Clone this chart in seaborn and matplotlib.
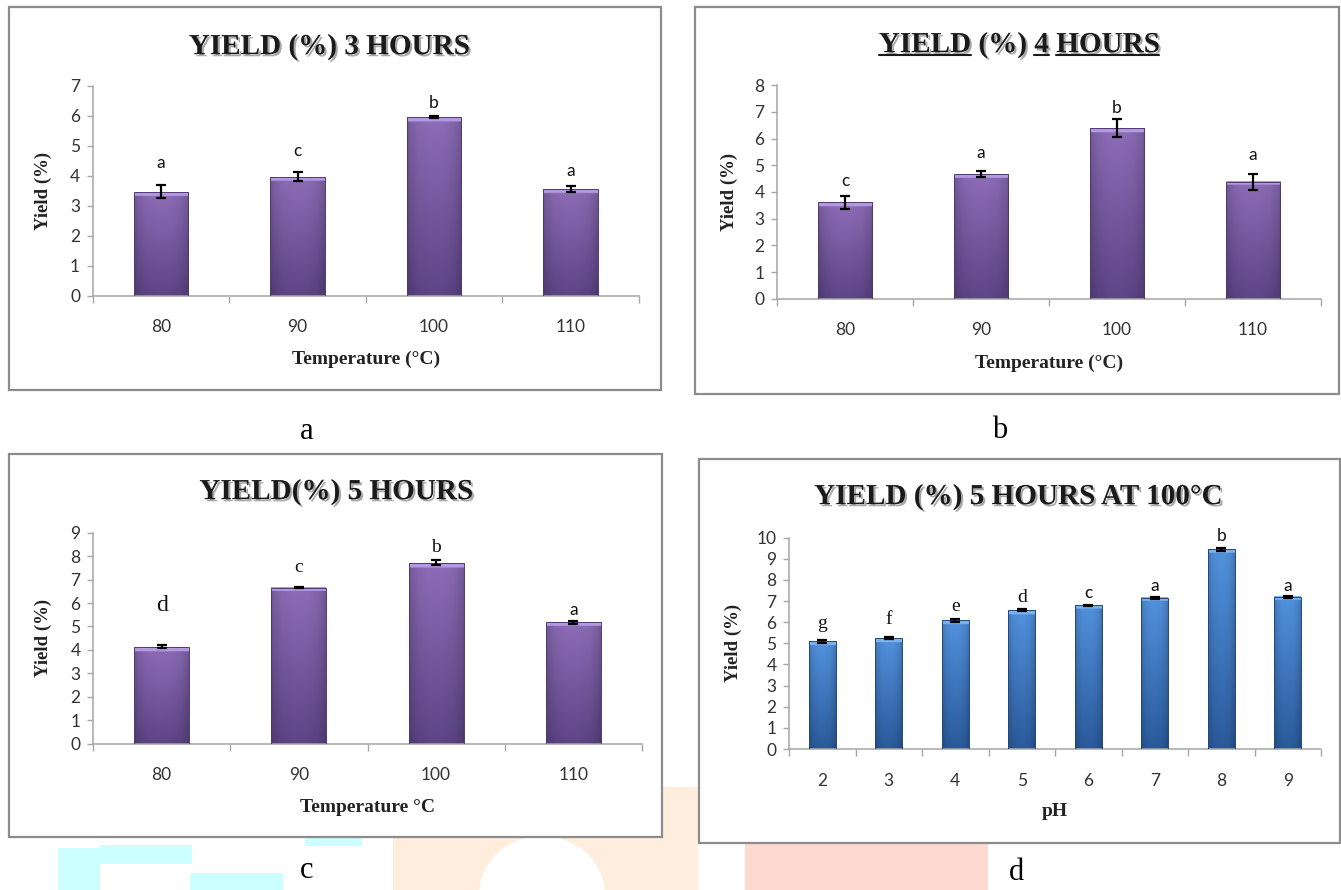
import numpy as np
import pandas as pd
import seaborn as sns
import matplotlib
matplotlib.use("Agg")
import matplotlib.pyplot as plt
from matplotlib.patches import Rectangle, Ellipse
from matplotlib.lines import Line2D
from matplotlib import patheffects as pe
from matplotlib.ticker import FixedLocator

# ---------------------------------------------------------------- data
temperatures = ["80", "90", "100", "110"]

yield_3h = [3.47, 3.97, 5.97, 3.57]
err_3h = [0.22, 0.15, 0.03, 0.10]
letters_3h = ["a", "c", "b", "a"]

yield_4h = [3.61, 4.67, 6.39, 4.39]
err_4h = [0.24, 0.11, 0.34, 0.30]
letters_4h = ["c", "a", "b", "a"]

yield_5h = [4.13, 6.66, 7.72, 5.18]
err_5h = [0.06, 0.04, 0.11, 0.06]
letters_5h = ["d", "c", "b", "a"]

ph_values = ["2", "3", "4", "5", "6", "7", "8", "9"]
yield_ph = [5.10, 5.25, 6.10, 6.56, 6.80, 7.15, 9.45, 7.20]
err_ph = [0.07, 0.05, 0.07, 0.05, 0.03, 0.03, 0.06, 0.06]
letters_ph = ["g", "f", "e", "d", "c", "a", "b", "a"]

# ---------------------------------------------------------------- style
sns.set_theme(style="white")
plt.rcParams["font.family"] = ["Lato", "DejaVu Sans"]

W, H = 1341, 890
fig = plt.figure(figsize=(W / 100, H / 100), dpi=100)
fig.patch.set_facecolor("white")

SERIF = ["Liberation Serif", "DejaVu Serif"]
SANS = ["Lato", "DejaVu Sans"]
SPINE = "#a6a6a6"
TITLE_KW = dict(fontsize=21, fontweight="bold", family=SERIF)

PURPLE = dict(top=(0.550, 0.425, 0.715), bot=(0.365, 0.270, 0.525),
              bevel=(0.700, 0.600, 0.880), edge="#4e3a72")
BLUE = dict(top=(0.320, 0.570, 0.865), bot=(0.165, 0.350, 0.605),
            bevel=(0.480, 0.700, 0.930), edge="#22497c")


def px_rect(x0, y0, x1, y1):
    """Figure-fraction rectangle from pixel corners (top-left origin)."""
    return [x0 / W, 1 - y1 / H, (x1 - x0) / W, (y1 - y0) / H]


def shade_bars(ax, ymax, pal):
    ax_h_px = ax.get_position().height * H
    bevel = 4.0 / ax_h_px * ymax
    for p in list(ax.patches):
        x0, y0, w, h = p.get_x(), p.get_y(), p.get_width(), p.get_height()
        ny, nx = 160, 48
        t = np.linspace(1, 0, ny)[:, None]
        u = np.linspace(0, 1, nx)[None, :]
        top = np.array(pal["top"])
        bot = np.array(pal["bot"])
        img = bot + (top - bot) * t[..., None]
        shade = 1 - 0.18 * np.abs(2 * u - 1) ** 3
        img = img * shade[..., None]
        nb = max(1, int(round(bevel / h * ny)))
        img[:nb] = np.array(pal["bevel"])
        img = np.clip(img, 0, 1)
        ax.imshow(img, extent=(x0, x0 + w, y0, y0 + h), aspect="auto",
                  interpolation="bilinear", zorder=2.5)
        p.set_facecolor("none")
        p.set_edgecolor(pal["edge"])
        p.set_linewidth(0.7)
        p.set_zorder(2.6)


def underline_words(title_artist, words):
    """Draw a rule under selected words of a title."""
    r = fig.canvas.get_renderer()
    text = title_artist.get_text()
    bb = title_artist.get_window_extent(r)

    def width(s):
        tmp = fig.text(0, 0, s, **TITLE_KW)
        w = tmp.get_window_extent(r).width
        tmp.remove()
        return w

    full_w = width(text)
    scale = bb.width / full_w
    y = bb.y0 + 3.5
    for word in words:
        start = text.index(word)
        xs = bb.x0 + width(text[:start] + "|") * scale - width("|") * scale \
            if start else bb.x0
        xe = xs + width(word) * scale
        fig.add_artist(Line2D([xs / W, xe / W], [y / H, y / H],
                              transform=fig.transFigure, color="#1a1a1a",
                              linewidth=1.5))


def panel(box, axrect, cats, vals, errs, letters, ymax, title, title_xy,
          xlabel, xlabel_y, ylabel_x, caption, caption_xy, pal,
          letter_off, letter_fonts=None, letter_sizes=None):
    # outer frame of the panel
    fig.add_artist(Rectangle((box[0] / W, 1 - box[3] / H),
                             (box[2] - box[0]) / W, (box[3] - box[1]) / H,
                             transform=fig.transFigure, facecolor="white",
                             edgecolor="#8c8c8c", linewidth=1.6, zorder=-1))
    ax = fig.add_axes(px_rect(*axrect))
    ax.set_facecolor("none")
    df = pd.DataFrame({"cat": cats, "val": vals})
    sns.barplot(data=df, x="cat", y="val", order=cats, color=pal["top"],
                width=0.4, saturation=1, errorbar=None, ax=ax)
    n = len(cats)
    shade_bars(ax, ymax, pal)
    ax.set_xlim(-0.5, n - 0.5)
    ax.set_ylim(0, ymax)

    ax.errorbar(range(n), vals, yerr=errs, fmt="none", ecolor="black",
                elinewidth=1.6, capsize=3.5, capthick=1.6, zorder=4)

    for i, (v, e, lab) in enumerate(zip(vals, errs, letters)):
        fam = letter_fonts[i] if letter_fonts else SANS
        size = letter_sizes[i] if letter_sizes else 12.5
        ax.annotate(lab, (i, v + e), xytext=(0, letter_off[i] * 0.72),
                    textcoords="offset points", ha="center", va="center",
                    fontsize=size, family=fam, color="#111111", zorder=5)

    # axes lines and ticks
    for s in ["top", "right"]:
        ax.spines[s].set_visible(False)
    for s in ["left", "bottom"]:
        ax.spines[s].set_color(SPINE)
        ax.spines[s].set_linewidth(1.1)
    ax.set_yticks(range(0, ymax + 1))
    ax.tick_params(axis="y", length=4, width=1, color=SPINE, pad=5,
                   labelsize=12.5, labelcolor="#333333", left=True)
    ax.xaxis.set_minor_locator(FixedLocator(np.arange(-0.5, n, 1.0)))
    ax.tick_params(axis="x", which="major", length=0, pad=17,
                   labelsize=12.5, labelcolor="#333333")
    ax.tick_params(axis="x", which="minor", length=5, width=1,
                   color=SPINE, bottom=True)
    ax.set_xlabel("")
    ax.set_ylabel("")

    # labels placed in figure pixels
    fig.text(((axrect[0] + axrect[2]) / 2) / W, 1 - xlabel_y / H, xlabel,
             ha="center", va="center", fontsize=14, fontweight="bold",
             family=SERIF, color="#222222")
    fig.text(ylabel_x / W, 1 - ((axrect[1] + axrect[3]) / 2) / H,
             "Yield (%)", ha="center", va="center", rotation=90,
             fontsize=13.5, fontweight="bold", family=SERIF,
             color="#222222")
    ttl = fig.text(title_xy[0] / W, 1 - title_xy[1] / H, title, ha="center",
                   va="center", color="#1a1a1a", **TITLE_KW,
                   path_effects=[pe.withSimplePatchShadow(offset=(1.5, -1.5),
                                                          alpha=0.35)])
    fig.text(caption_xy[0] / W, 1 - caption_xy[1] / H, caption,
             ha="center", va="center", fontsize=22, family=SERIF,
             color="black")
    return ax, ttl


# ---------------------------------------------------------------- faint logo shapes along the bottom edge
def fig_rect(x0, y0, x1, y1, color):
    fig.add_artist(Rectangle((x0 / W, 1 - y1 / H), (x1 - x0) / W,
                             (y1 - y0) / H, transform=fig.transFigure,
                             facecolor=color, edgecolor="none", zorder=-3))


CYAN, ORANGE, ROSE = "#ccffff", "#ffeedd", "#ffd9d0"
fig_rect(58, 848, 100, 890, CYAN)
fig_rect(100, 845, 192, 864, CYAN)
fig_rect(190, 873, 283, 890, CYAN)
fig_rect(305, 836, 362, 846, CYAN)
fig_rect(393, 787, 698, 890, ORANGE)
fig.add_artist(Ellipse((542 / W, 1 - 895 / H), 126 / W, 118 / H,
                       transform=fig.transFigure, facecolor="white",
                       edgecolor="none", zorder=-2.5))
fig_rect(745, 843, 988, 890, ROSE)

# ---------------------------------------------------------------- panels
panel(box=(9, 7, 661, 390), axrect=(92.6, 86, 639, 295.7),
      cats=temperatures, vals=yield_3h, errs=err_3h, letters=letters_3h,
      ymax=7, title="YIELD (%) 3 HOURS", title_xy=(329, 47),
      xlabel="Temperature (°C)", xlabel_y=359, ylabel_x=43,
      caption="a", caption_xy=(307, 432), pal=PURPLE,
      letter_off=[22, 21, 13, 15])

_, title_b = panel(box=(695, 7, 1339, 394), axrect=(777, 85.3, 1321, 298.7),
                   cats=temperatures, vals=yield_4h, errs=err_4h,
                   letters=letters_4h, ymax=8, title="YIELD (%) 4 HOURS",
                   title_xy=(1019, 45), xlabel="Temperature (°C)",
                   xlabel_y=363, ylabel_x=729, caption="b",
                   caption_xy=(1000, 430), pal=PURPLE,
                   letter_off=[15, 18, 11, 19])
underline_words(title_b, ["YIELD", "4", "HOURS"])

panel(box=(9, 454, 662, 837), axrect=(93, 532.7, 642, 743.7),
      cats=temperatures, vals=yield_5h, errs=err_5h, letters=letters_5h,
      ymax=9, title="YIELD(%) 5 HOURS", title_xy=(336, 492),
      xlabel="Temperature °C", xlabel_y=807, ylabel_x=43,
      caption="c", caption_xy=(307, 870), pal=PURPLE,
      letter_off=[40, 19, 13, 11],
      letter_fonts=[SERIF, SERIF, SERIF, SANS],
      letter_sizes=[17, 14, 14, 12.5])

panel(box=(699, 459, 1340, 843), axrect=(789, 537.7, 1321, 749),
      cats=ph_values, vals=yield_ph, errs=err_ph, letters=letters_ph,
      ymax=10, title="YIELD (%) 5 HOURS AT 100°C", title_xy=(1018, 497),
      xlabel="pH", xlabel_y=812, ylabel_x=733,
      caption="d", caption_xy=(1016, 873), pal=BLUE,
      letter_off=[16, 18, 12, 12, 12, 11, 12, 10],
      letter_fonts=[SERIF] * 4 + [SANS] * 4,
      letter_sizes=[14, 14, 14, 14, 12.5, 12.5, 12.5, 12.5])

fig.savefig("out.png", dpi=100, facecolor="white")
